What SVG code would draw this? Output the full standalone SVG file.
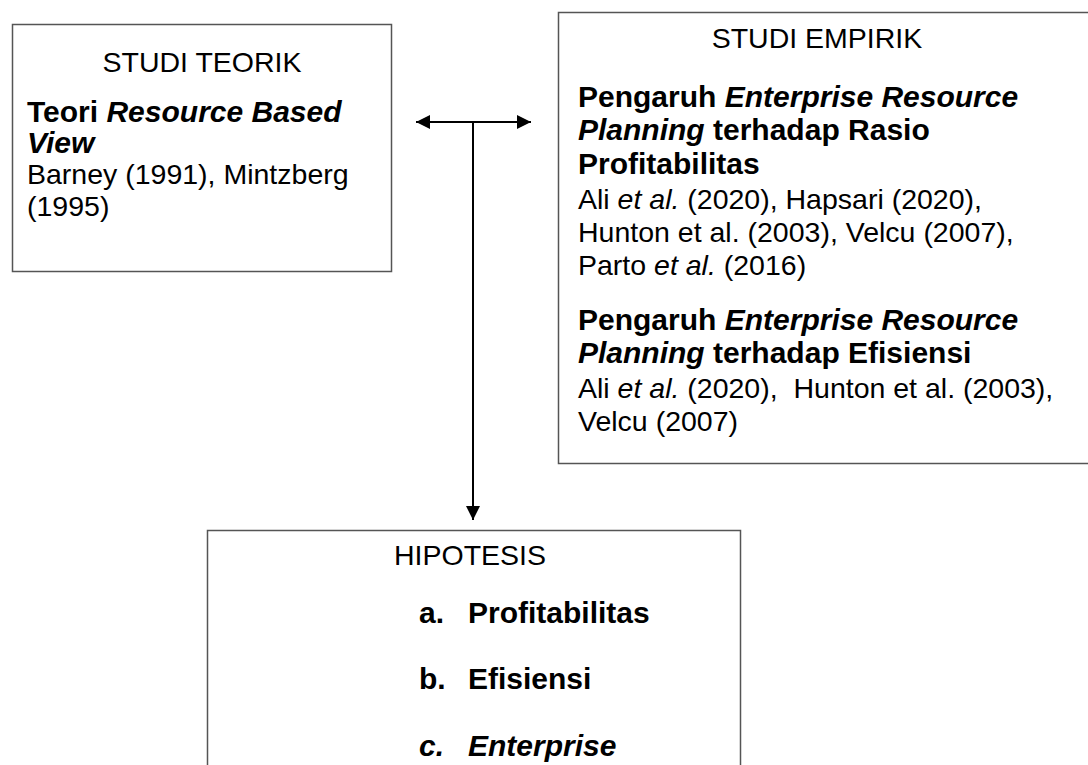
<svg xmlns="http://www.w3.org/2000/svg" width="1088" height="765" viewBox="0 0 1088 765">
<style>
text{font-family:"Liberation Sans",Arial,sans-serif;font-size:28.5px;fill:#000}
.b{font-weight:bold;font-size:30px}
.i{font-style:italic}
.box{fill:#fff;stroke:#555;stroke-width:1.5}
.c{text-anchor:middle}
.pre{white-space:pre}
.ln{stroke:#000;stroke-width:2;fill:none}
</style>
<defs>
<marker id="ah" viewBox="0 0 10 10" refX="10" refY="5" markerWidth="7.5" markerHeight="7" orient="auto-start-reverse" markerUnits="strokeWidth">
<path d="M0,0 L10,5 L0,10 z" fill="#000"/>
</marker>
</defs>
<rect width="1088" height="765" fill="#fff"/>
<g id="studi-teorik">
<rect class="box" x="12.5" y="24.5" width="379" height="247" stroke="#333"/>
<text class="c" x="202" y="72">STUDI TEORIK</text>
<text x="27" y="122" class="b">Teori <tspan class="i">Resource Based</tspan></text>
<text x="27" y="153" class="b i">View</text>
<text x="27" y="184">Barney (1991), Mintzberg</text>
<text x="27" y="216">(1995)</text>
</g>
<g id="studi-empirik">
<rect class="box" x="558.5" y="12.5" width="540" height="451" stroke="#666"/>
<text class="c" x="817" y="48">STUDI EMPIRIK</text>
<text x="578" y="107" class="b">Pengaruh <tspan class="i">Enterprise Resource</tspan></text>
<text x="578" y="140" class="b"><tspan class="i">Planning</tspan> terhadap Rasio</text>
<text x="578" y="174" class="b">Profitabilitas</text>
<text x="578" y="209">Ali <tspan class="i">et al.</tspan> (2020), Hapsari (2020),</text>
<text x="578" y="242">Hunton et al. (2003), Velcu (2007),</text>
<text x="578" y="275">Parto <tspan class="i">et al.</tspan> (2016)</text>
<text x="578" y="330" class="b">Pengaruh <tspan class="i">Enterprise Resource</tspan></text>
<text x="578" y="363" class="b"><tspan class="i">Planning</tspan> terhadap Efisiensi</text>
<text x="578" y="398" class="pre" xml:space="preserve">Ali <tspan class="i">et al.</tspan> (2020),  Hunton et al. (2003),</text>
<text x="578" y="431">Velcu (2007)</text>
</g>
<g id="hipotesis">
<rect class="box" x="207.5" y="530.5" width="533" height="260" stroke="#777"/>
<text class="c" x="470" y="565">HIPOTESIS</text>
<text x="419" y="623" class="b">a.</text>
<text x="468" y="623" class="b">Profitabilitas</text>
<text x="419" y="689" class="b">b.</text>
<text x="468" y="689" class="b">Efisiensi</text>
<text x="419" y="756" class="b i">c.</text>
<text x="468" y="756" class="b i">Enterprise</text>
</g>
<g id="connectors">
<line class="ln" x1="416" y1="122" x2="531" y2="122" marker-start="url(#ah)" marker-end="url(#ah)"/>
<line class="ln" x1="473" y1="122" x2="473" y2="520" marker-end="url(#ah)"/>
</g>
</svg>
